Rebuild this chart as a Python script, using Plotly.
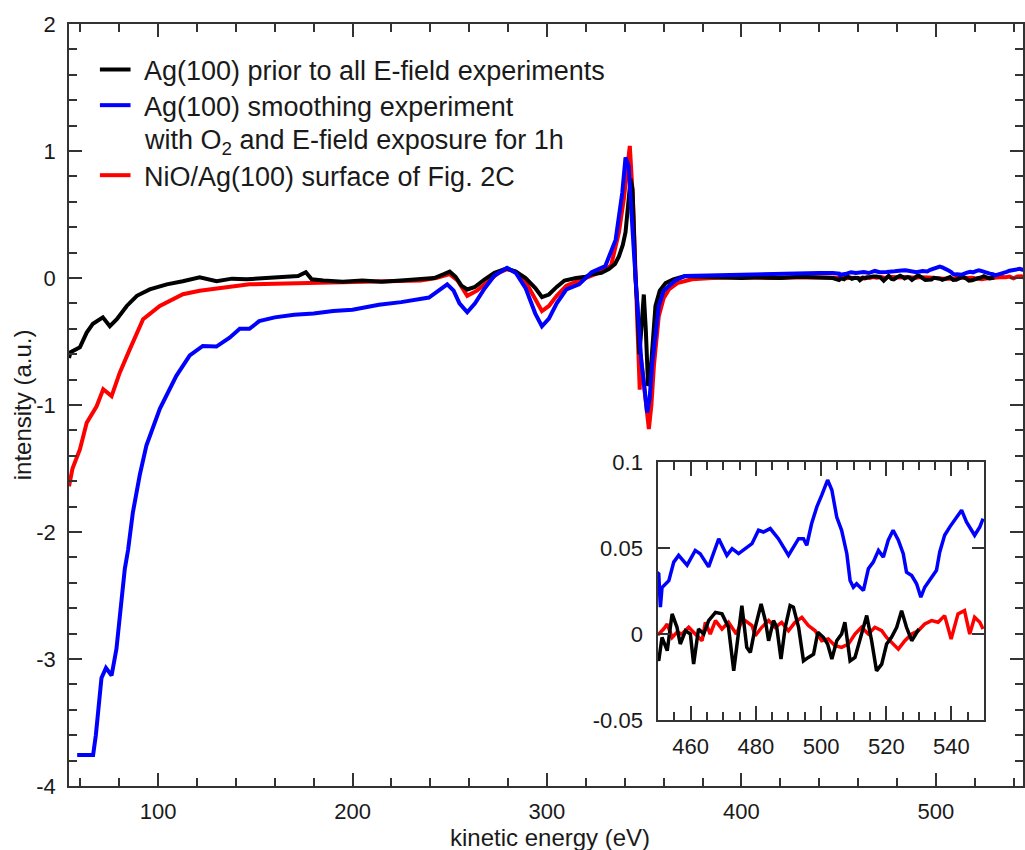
import plotly.graph_objects as go

# ---------------- data ----------------
black_E = [54.2, 55, 59.8, 63.3, 66.5, 71.6, 75.2, 78.8, 83.9, 89.1, 95.7, 104.5, 112.7, 121.4, 130.1,
           138, 145.5, 155, 165, 172, 176, 179, 185, 195, 205, 215, 225, 235, 242, 247, 250, 253,
           256, 259, 263, 268, 273, 279, 284, 289, 294, 297.4, 301, 305, 309, 315, 320, 323.3, 328,
           331.8, 335, 337, 339, 340.4, 342.1, 343, 344, 344.6, 345.5, 346.4, 347.5, 348.3, 349.8,
           350.8, 352.0, 353.0, 354.5, 355.8, 358, 361, 365, 371, 380, 390, 400, 410, 420, 430, 440, 447,
           450.2, 451.2, 452.8, 454.3, 455.8, 456.8, 458.4, 459.9, 460.9, 462.4, 464, 465.5, 467.6, 469.6,
           471.6, 473.2, 474.7, 475.7, 477.2, 478.3, 479.8, 481.6, 482.9, 483.9, 485.4, 486.4, 487.7,
           489, 490.5, 491.5, 493.1, 494.6, 496.1, 497.7, 499, 500.7, 502, 503.3, 504.8, 506.3, 507.3,
           508.9, 510.4, 512.2, 514, 515.5, 517, 518.6, 520.1, 521.6, 523.2, 524.7, 526.2, 527.8, 529.3, 530]
black_I = [-0.63, -0.585, -0.546, -0.43, -0.36, -0.31, -0.38, -0.325, -0.22, -0.14, -0.09, -0.05, -0.026, 0.005, -0.026,
           -0.005, -0.01, 0.0, 0.01, 0.015, 0.045, -0.01, -0.02, -0.03, -0.02, -0.03, -0.02, -0.01, 0.0, 0.03, 0.05, 0.01,
           -0.06, -0.09, -0.07, -0.01, 0.04, 0.074, 0.05, 0.0, -0.08, -0.15, -0.13, -0.07, -0.02, 0.0, 0.01, 0.03, 0.04,
           0.07, 0.11, 0.17, 0.26, 0.36, 0.62, 0.78, 0.7, 0.36, 0.0, -0.2, -0.6, -0.45, -0.13,
           -0.4, -0.85, -0.8, -0.5, -0.22, -0.1, -0.04, -0.01, 0.016, 0.01, 0.005, 0.0, 0.005, 0.0, 0.01, 0.005, 0.0,
           -0.0156, -0.002, -0.0097, 0.0117, 0.0039, -0.0058, 0.0019, 0.0, -0.0175, 0.0029, 0.0, 0.0078, 0.0126, 0.0117,
           0.0039, -0.0214, 0.0039, 0.0165, -0.0078, -0.0107, 0.0039, 0.0175, 0.0078, -0.0039, 0.0078, 0.0039, -0.0146,
           0.0039, 0.0165, 0.0156, 0.0039, -0.0156, -0.0136, -0.0117, 0.001, -0.0019, -0.0058, -0.0146, -0.0039, 0.0, 0.0068,
           -0.0156, -0.0136, -0.001, 0.0107, -0.0039, -0.0214, -0.0175, -0.0058, -0.0019, 0.0039, 0.0136, 0.0039, -0.0039, 0.001, 0.0029]

blue_E = [58.4, 66.6, 68, 69.2, 70.9, 73.2, 76.1, 78.6, 81.2, 82.9, 84.6, 87, 90.6, 94, 100.9, 105, 109.4,
          116.3, 123, 130, 136.8, 142, 147, 152, 160, 170, 180, 190, 200, 213.6, 225, 239.3, 244, 248.7,
          252, 255, 259, 263, 268, 273, 279.5, 284, 289, 294, 297.4, 301, 305, 310, 316.5, 323, 330, 335.3,
          338.7, 340.4, 342, 343.3, 344.6, 346, 347.2, 348.5, 349.8, 351.5, 352.8, 354, 355.8, 357.5, 360,
          362.7, 366, 371, 380, 395, 410, 425, 440, 447,
          450.2, 450.7, 451.2, 453.3, 454.8, 456.3, 458.9, 461.4, 462.9, 465.5, 468.6, 471.1, 472.7, 474.7,
          478.8, 480.8, 482.3, 484.4, 486.9, 490, 493.1, 494.6, 495.6, 497.1, 498.7, 500.2, 502, 503.3, 504.8,
          506.3, 507.9, 508.9, 509.9, 510.9, 513, 514.5, 516, 517.6, 519.1, 520.6, 522.1, 523.7, 525.2, 526.2,
          527.8, 529.3, 530.6, 531.8, 533.9, 535.4, 536.4, 537.9, 539.5, 541, 543.1, 544.6, 546.1, 547.1,
          548.7, 549.7]
blue_I = [-3.756, -3.756, -3.6, -3.40, -3.15, -3.07, -3.13, -2.92, -2.53, -2.29, -2.14, -1.85, -1.55, -1.32, -1.03, -0.9, -0.77,
          -0.61, -0.535, -0.54, -0.47, -0.40, -0.40, -0.34, -0.31, -0.29, -0.28, -0.26, -0.25, -0.21, -0.19, -0.154, -0.1, -0.05,
          -0.1, -0.2, -0.27, -0.2, -0.08, 0.02, 0.08, 0.04, -0.08, -0.28, -0.38, -0.32, -0.2, -0.09, -0.05, 0.045, 0.095, 0.30,
          0.67, 0.95, 0.88, 0.6, 0.23, -0.1, -0.43, -0.65, -0.82, -1.06, -0.95, -0.69, -0.45, -0.22, -0.1,
          -0.06, -0.02, 0.016, 0.02, 0.025, 0.03, 0.035, 0.04, 0.04,
          0.035, 0.0156, 0.027, 0.031, 0.0418, 0.0457, 0.040, 0.0486, 0.0467, 0.039, 0.0554, 0.0457, 0.0496, 0.0467,
          0.0525, 0.0603, 0.0593, 0.0613, 0.0554, 0.0457, 0.0554, 0.0554, 0.0516, 0.0642, 0.0739, 0.0807, 0.0895, 0.0837, 0.068,
          0.0603, 0.0467, 0.0311, 0.0272, 0.0292, 0.0253, 0.0379, 0.0418, 0.0486, 0.0447, 0.0545, 0.0603, 0.0545, 0.0467, 0.036,
          0.034, 0.0292, 0.0214, 0.0272, 0.033, 0.037, 0.0477, 0.0574, 0.0623, 0.0661, 0.072, 0.0652, 0.0603, 0.0574,
          0.0623, 0.0671]

red_E = [54.2, 56, 59.8, 63.3, 68.4, 71.8, 76.1, 80.3, 85.5, 92.3, 100.9, 112.8, 121.4, 133.2, 147, 160, 175,
         190, 205, 220, 235, 243, 247, 250, 254, 259, 264, 270, 275, 279.5, 284, 289, 294, 297.4, 301, 305,
         310, 316.5, 322, 328, 333, 337, 339.5, 341, 342.6, 344.2, 345.5, 346.7, 347.7, 348.1, 349.5, 351,
         352.4, 353.7, 355, 357.5, 360, 362.7, 367, 374.6, 385, 400, 415, 430, 445,
         450.2, 451.7, 452.8, 454.3, 455.8, 457.3, 459.4, 461.4, 463.5, 464.5, 466, 467.6, 469.6, 471.6, 474,
         476, 478.8, 479.8, 481.8, 483.9, 485.9, 487.9, 490, 492, 494.1, 496.1, 498.2, 500.2, 502.2, 504.3,
         506.3, 508.4, 510.4, 512.4, 514.5, 516.5, 518.6, 520.1, 522.1, 523.7, 525.7, 527.8, 529.8, 531.8,
         533.9, 535.9, 537.9, 539.9, 542, 544, 545.6, 547.1, 548.7, 549.7]
red_I = [-1.64, -1.5, -1.35, -1.14, -1.01, -0.876, -0.93, -0.745, -0.56, -0.325, -0.22, -0.128, -0.10, -0.076, -0.05, -0.045, -0.04,
         -0.035, -0.035, -0.03, -0.02, 0.0, 0.02, 0.03, -0.02, -0.14, -0.1, -0.02, 0.04, 0.07, 0.05, -0.03, -0.16, -0.26, -0.22, -0.14,
         -0.06, -0.02, 0.02, 0.05, 0.1, 0.36, 0.62, 0.85, 1.04, 0.62, 0.09, -0.43, -0.88, -0.6, -0.8, -1.05,
         -1.19, -1.0, -0.69, -0.30, -0.16, -0.09, -0.04, -0.01, 0.0, 0.005, 0.0, 0.005, 0.0,
         0.0, 0.0029, 0.0058, -0.002, 0.001, 0.0, 0.0039, 0.0, -0.0039, 0.0068, 0.0, 0.0078, 0.0029, 0.0068, 0.0,
         0.0088, 0.0049, -0.001, 0.0039, 0.0078, 0.0039, 0.0068, 0.0019, 0.0068, 0.0097, 0.0049, 0.0019, -0.0039, -0.0029, -0.0068,
         -0.0078, -0.0058, 0.0, 0.0039, 0.0, 0.0039, 0.0019, -0.002, -0.0058, -0.0088, -0.0039, 0.0, 0.0019, 0.0058,
         0.0078, 0.0068, 0.0107, -0.0029, 0.0117, 0.0136, 0.0, 0.0097, 0.0068, 0.0029]

main_y_ticks = [-4, -3, -2, -1, 0, 1, 2]
main_y_text = ["-4", "-3", "-2", "-1", "0", "1", "2"]
inset_y_ticks = [-0.05, 0, 0.05, 0.1]
inset_y_text = ["-0.05", "0", "0.05", "0.1"]

legend_names = ["Ag(100) prior to all E-field experiments",
                "Ag(100) smoothing experiment",
                "with O<sub>2</sub> and E-field exposure for 1h",
                "NiO/Ag(100) surface of Fig. 2C"]

BLACK, BLUE, RED = "#000000", "#0000ff", "#ff0000"
AX = "#333333"
FONT = "Liberation Sans, Arial, sans-serif"
TXT = "#1a1a1a"

fig = go.Figure()
series = [(red_E, red_I, RED), (black_E, black_I, BLACK), (blue_E, blue_I, BLUE)]
for E, I, c in series:
    fig.add_trace(go.Scatter(x=E, y=I, mode="lines", line=dict(color=c, width=4),
                             xaxis="x", yaxis="y", showlegend=False, hoverinfo="skip"))
for E, I, c in series:
    fig.add_trace(go.Scatter(x=E, y=I, mode="lines", line=dict(color=c, width=3.5),
                             xaxis="x2", yaxis="y2", showlegend=False, hoverinfo="skip"))

common = dict(showline=True, linecolor=AX, linewidth=1.5, mirror="ticks", ticks="inside",
              tickcolor=AX, tickwidth=1.5, showgrid=False, zeroline=False,
              tickfont=dict(family=FONT, size=22, color=TXT))

fig.update_layout(
    width=1025, height=850,
    margin=dict(l=69, r=0, t=24, b=64),
    paper_bgcolor="white", plot_bgcolor="white",
    font=dict(family=FONT, color=TXT),
    xaxis=dict(domain=[0, 1], range=[54.2, 544.8], tick0=0, dtick=100, ticklen=13,
               ticklabelstandoff=5,
               minor=dict(tickmode="linear", tick0=0, dtick=20, ticklen=8, ticks="inside",
                          tickcolor=AX, tickwidth=1.5, showgrid=False),
               anchor="y", **common),
    yaxis=dict(domain=[0, 1], range=[-4, 2], tickmode="array", tickvals=main_y_ticks,
               ticktext=main_y_text, ticklen=13, ticklabelstandoff=7,
               minor=dict(tickmode="linear", tick0=0, dtick=0.2, ticklen=8, ticks="inside",
                          tickcolor=AX, tickwidth=1.5, showgrid=False),
               anchor="x", **common),
    xaxis2=dict(domain=[0.6175, 0.9592], range=[450, 550], tick0=0, dtick=20, ticklen=14,
                ticklabelstandoff=6,
                minor=dict(tickmode="linear", tick0=0, dtick=5, ticklen=8, ticks="inside",
                           tickcolor=AX, tickwidth=1.5, showgrid=False),
                anchor="y2", **common),
    yaxis2=dict(domain=[0.0866, 0.4252], range=[-0.05, 0.1], tickmode="array",
                tickvals=inset_y_ticks, ticktext=inset_y_text, ticklen=12, ticklabelstandoff=9,
                anchor="x2", **common),
)

# legend drawn as text + line samples
legend_rows_y = [0.9383, 0.8915, 0.8455, 0.7996]
legend_line_colors = [BLACK, BLUE, None, RED]
for txt, yy, col in zip(legend_names, legend_rows_y, legend_line_colors):
    fig.add_annotation(x=0.076, y=yy, xref="paper", yref="paper", text=txt, showarrow=False,
                       xanchor="left", yanchor="middle",
                       font=dict(family=FONT, size=27, color=TXT))
    if col:
        fig.add_shape(type="line", xref="paper", yref="paper", x0=0.0324, x1=0.0645,
                      y0=yy + 0.002, y1=yy + 0.002, line=dict(color=col, width=4))

fig.add_annotation(x=0.504, y=-0.067, xref="paper", yref="paper", text="kinetic energy (eV)",
                   showarrow=False, xanchor="center", yanchor="middle",
                   font=dict(family=FONT, size=24, color=TXT))
fig.add_annotation(x=-0.049, y=0.5, xref="paper", yref="paper", text="intensity (a.u.)",
                   showarrow=False, textangle=-90, xanchor="center", yanchor="middle",
                   font=dict(family=FONT, size=24, color=TXT))

fig.write_html("out.html", config={"displayModeBar": False},
               post_script="document.body.style.margin='0px';document.body.style.padding='0px';"
                           "document.body.style.overflow='hidden';")
